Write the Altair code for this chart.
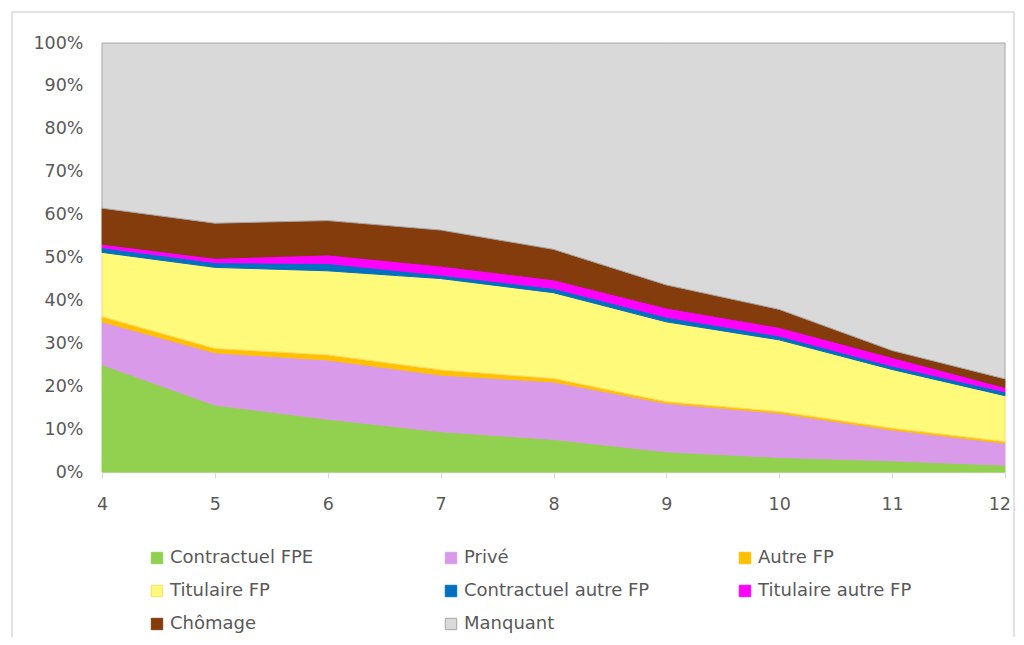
import altair as alt
import pandas as pd

annees = [4, 5, 6, 7, 8, 9, 10, 11, 12]
series = ["Contractuel FPE", "Privé", "Autre FP", "Titulaire FP",
          "Contractuel autre FP", "Titulaire autre FP", "Chômage", "Manquant"]

contractuel_fpe = [25.0, 15.6, 12.3, 9.4, 7.6, 4.7, 3.4, 2.6, 1.6]
prive = [10.0, 12.2, 13.8, 13.2, 13.4, 11.3, 10.3, 7.2, 5.1]
autre_fp = [1.2, 1.0, 1.2, 1.2, 0.8, 0.4, 0.4, 0.4, 0.4]
titulaire_fp = [15.0, 18.9, 19.6, 21.3, 20.0, 18.6, 16.7, 13.7, 10.7]
contractuel_autre_fp = [1.1, 1.1, 1.7, 0.8, 1.0, 1.1, 0.9, 0.8, 0.9]
titulaire_autre_fp = [0.8, 1.0, 2.0, 2.1, 2.0, 2.1, 2.0, 2.0, 1.0]
chomage = [8.4, 8.2, 8.0, 8.4, 7.1, 5.4, 4.2, 1.6, 2.0]
manquant = [38.5, 42.0, 41.4, 43.6, 48.1, 56.4, 62.1, 71.7, 78.3]

fill_colors = ["#92D050", "#D99BE9", "#FFC000", "#FFFA7A",
               "#0070C0", "#FF00FF", "#843C0C", "#D9D9D9"]
stroke_colors = ["#92D050", "#D99BE9", "#FFC000", "#FFD966",
                 "#0070C0", "#FF00FF", "#843C0C", "#A6A6A6"]

valeurs = [contractuel_fpe, prive, autre_fp, titulaire_fp,
           contractuel_autre_fp, titulaire_autre_fp, chomage, manquant]

rows = []
for i, (nom, vals) in enumerate(zip(series, valeurs)):
    for a, v in zip(annees, vals):
        rows.append({"annee": a, "serie": nom, "valeur": v, "ordre": i})
df = pd.DataFrame(rows)

FONT = "DejaVu Sans"
TXT = "#595959"

legend = alt.Legend(
    title=None, orient="none", legendX=46, legendY=506, columns=3,
    direction="horizontal", gridAlign="all", columnPadding=86, rowPadding=15,
    symbolType="square", symbolSize=130, symbolStrokeWidth=1,
    labelFont=FONT, labelFontSize=18, labelColor=TXT, labelOffset=4,
    labelLimit=300,
)

areas = alt.Chart(df).mark_area(strokeWidth=1, interpolate="linear").encode(
    x=alt.X("annee:Q", scale=alt.Scale(domain=[4, 12], nice=False),
            axis=alt.Axis(values=annees, format="d", title=None, grid=False,
                          labelFont=FONT, labelFontSize=17.5, labelColor=TXT,
                          labelFlush=True, labelFlushOffset=5.5, labelPadding=17,
                          tickColor="#D9D9D9", tickSize=6,
                          domainColor="#D9D9D9", domainWidth=1.5)),
    y=alt.Y("valeur:Q", stack="zero", scale=alt.Scale(domain=[0, 100], nice=False),
            axis=alt.Axis(values=list(range(0, 101, 10)), labelExpr="datum.value + '%'",
                          title=None, grid=False, ticks=False, domain=False,
                          labelFont=FONT, labelFontSize=17.5, labelColor=TXT,
                          labelPadding=19)),
    fill=alt.Fill("serie:N", scale=alt.Scale(domain=series, range=fill_colors),
                  legend=legend),
    stroke=alt.Stroke("serie:N", scale=alt.Scale(domain=series, range=stroke_colors),
                      legend=legend),
    order=alt.Order("ordre:Q", sort="ascending"),
)

frame = alt.Chart(pd.DataFrame({"a": [0]})).mark_rect(
    fill=None, stroke="#D9D9D9", strokeWidth=1.5, clip=False
).encode(
    x=alt.value(-90), x2=alt.value(912), y=alt.value(-31), y2=alt.value(620)
)

chart = alt.layer(frame, areas).properties(
    width=903, height=429,
    autosize=alt.AutoSizeParams(type="none"),
    padding={"left": 94, "top": 35, "right": 11, "bottom": 165},
    background="white",
).configure_view(stroke=None)

chart.save("out.html", embed_options={"renderer": "svg", "actions": False})
